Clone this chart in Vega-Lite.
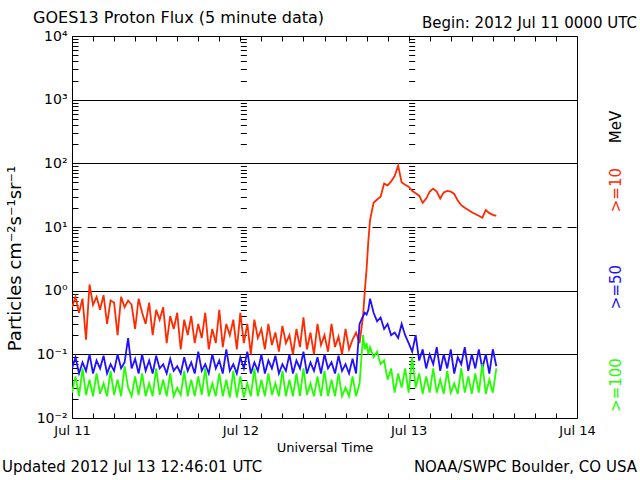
{
  "$schema": "https://vega.github.io/schema/vega-lite/v6.json",
  "width": 505,
  "height": 382,
  "autosize": "none",
  "padding": {"left": 72, "top": 36, "right": 63, "bottom": 62},
  "background": "white",
  "config": {
    "view": {"stroke": "black", "strokeWidth": 1},
    "font": "DejaVu Sans",
    "axis": {"domainColor": "black", "tickColor": "black", "labelColor": "black", "titleColor": "black", "titleFontWeight": "normal", "labelFont": "DejaVu Sans", "titleFont": "DejaVu Sans"}
  },
  "layer": [
    {
      "data": {"values": [
        {"t":"2012-07-11T00:00:00Z","r":0.55,"b":0.06,"g":0.025},
        {"t":"2012-07-11T00:30:00Z","r":0.8,"b":0.09,"g":0.045},
        {"t":"2012-07-11T01:00:00Z","r":0.45,"b":0.05,"g":0.022},
        {"t":"2012-07-11T01:30:00Z","r":0.75,"b":0.075,"g":0.06},
        {"t":"2012-07-11T02:00:00Z","r":0.17,"b":0.055,"g":0.023},
        {"t":"2012-07-11T02:30:00Z","r":1.25,"b":0.1,"g":0.04},
        {"t":"2012-07-11T03:00:00Z","r":0.6,"b":0.05,"g":0.022},
        {"t":"2012-07-11T03:30:00Z","r":0.8,"b":0.08,"g":0.05},
        {"t":"2012-07-11T04:00:00Z","r":0.5,"b":0.06,"g":0.024},
        {"t":"2012-07-11T04:30:00Z","r":0.85,"b":0.095,"g":0.035},
        {"t":"2012-07-11T05:00:00Z","r":0.3,"b":0.05,"g":0.022},
        {"t":"2012-07-11T05:30:00Z","r":0.7,"b":0.07,"g":0.055},
        {"t":"2012-07-11T06:00:00Z","r":0.65,"b":0.055,"g":0.023},
        {"t":"2012-07-11T06:30:00Z","r":0.2,"b":0.1,"g":0.04},
        {"t":"2012-07-11T07:00:00Z","r":0.8,"b":0.06,"g":0.022},
        {"t":"2012-07-11T07:30:00Z","r":0.55,"b":0.075,"g":0.065},
        {"t":"2012-07-11T08:00:00Z","r":0.7,"b":0.18,"g":0.03},
        {"t":"2012-07-11T08:30:00Z","r":0.6,"b":0.06,"g":0.022},
        {"t":"2012-07-11T09:00:00Z","r":0.25,"b":0.085,"g":0.045},
        {"t":"2012-07-11T09:30:00Z","r":0.75,"b":0.05,"g":0.023},
        {"t":"2012-07-11T10:00:00Z","r":0.45,"b":0.1,"g":0.05},
        {"t":"2012-07-11T10:30:00Z","r":0.3,"b":0.055,"g":0.022},
        {"t":"2012-07-11T11:00:00Z","r":0.65,"b":0.08,"g":0.035},
        {"t":"2012-07-11T11:30:00Z","r":0.2,"b":0.05,"g":0.022},
        {"t":"2012-07-11T12:00:00Z","r":0.5,"b":0.095,"g":0.06},
        {"t":"2012-07-11T12:30:00Z","r":0.35,"b":0.06,"g":0.023},
        {"t":"2012-07-11T13:00:00Z","r":0.55,"b":0.07,"g":0.04},
        {"t":"2012-07-11T13:30:00Z","r":0.15,"b":0.05,"g":0.022},
        {"t":"2012-07-11T14:00:00Z","r":0.4,"b":0.085,"g":0.05},
        {"t":"2012-07-11T14:30:00Z","r":0.25,"b":0.055,"g":0.022},
        {"t":"2012-07-11T15:00:00Z","r":0.45,"b":0.065,"g":0.03},
        {"t":"2012-07-11T15:30:00Z","r":0.12,"b":0.05,"g":0.023},
        {"t":"2012-07-11T16:00:00Z","r":0.35,"b":0.09,"g":0.055},
        {"t":"2012-07-11T16:30:00Z","r":0.2,"b":0.055,"g":0.022},
        {"t":"2012-07-11T17:00:00Z","r":0.4,"b":0.075,"g":0.04},
        {"t":"2012-07-11T17:30:00Z","r":0.15,"b":0.05,"g":0.022},
        {"t":"2012-07-11T18:00:00Z","r":0.3,"b":0.11,"g":0.045},
        {"t":"2012-07-11T18:30:00Z","r":0.18,"b":0.055,"g":0.023},
        {"t":"2012-07-11T19:00:00Z","r":0.45,"b":0.07,"g":0.06},
        {"t":"2012-07-11T19:30:00Z","r":0.12,"b":0.05,"g":0.022},
        {"t":"2012-07-11T20:00:00Z","r":0.25,"b":0.1,"g":0.035},
        {"t":"2012-07-11T20:30:00Z","r":0.15,"b":0.06,"g":0.022},
        {"t":"2012-07-11T21:00:00Z","r":0.5,"b":0.08,"g":0.05},
        {"t":"2012-07-11T21:30:00Z","r":0.13,"b":0.05,"g":0.022},
        {"t":"2012-07-11T22:00:00Z","r":0.3,"b":0.12,"g":0.04},
        {"t":"2012-07-11T22:30:00Z","r":0.2,"b":0.055,"g":0.021},
        {"t":"2012-07-11T23:00:00Z","r":0.35,"b":0.07,"g":0.055},
        {"t":"2012-07-11T23:30:00Z","r":0.12,"b":0.05,"g":0.021},
        {"t":"2012-07-12T00:00:00Z","r":0.45,"b":0.09,"g":0.045},
        {"t":"2012-07-12T00:30:00Z","r":0.15,"b":0.06,"g":0.021},
        {"t":"2012-07-12T01:00:00Z","r":0.3,"b":0.11,"g":0.035},
        {"t":"2012-07-12T01:30:00Z","r":0.1,"b":0.05,"g":0.022},
        {"t":"2012-07-12T02:00:00Z","r":0.35,"b":0.075,"g":0.06},
        {"t":"2012-07-12T02:30:00Z","r":0.18,"b":0.055,"g":0.022},
        {"t":"2012-07-12T03:00:00Z","r":0.25,"b":0.1,"g":0.04},
        {"t":"2012-07-12T03:30:00Z","r":0.12,"b":0.05,"g":0.022},
        {"t":"2012-07-12T04:00:00Z","r":0.3,"b":0.08,"g":0.05},
        {"t":"2012-07-12T04:30:00Z","r":0.14,"b":0.06,"g":0.023},
        {"t":"2012-07-12T05:00:00Z","r":0.22,"b":0.095,"g":0.035},
        {"t":"2012-07-12T05:30:00Z","r":0.11,"b":0.05,"g":0.022},
        {"t":"2012-07-12T06:00:00Z","r":0.28,"b":0.07,"g":0.055},
        {"t":"2012-07-12T06:30:00Z","r":0.15,"b":0.055,"g":0.022},
        {"t":"2012-07-12T07:00:00Z","r":0.2,"b":0.1,"g":0.04},
        {"t":"2012-07-12T07:30:00Z","r":0.1,"b":0.05,"g":0.022},
        {"t":"2012-07-12T08:00:00Z","r":0.25,"b":0.08,"g":0.05},
        {"t":"2012-07-12T08:30:00Z","r":0.13,"b":0.06,"g":0.022},
        {"t":"2012-07-12T09:00:00Z","r":0.38,"b":0.11,"g":0.06},
        {"t":"2012-07-12T09:30:00Z","r":0.12,"b":0.05,"g":0.023},
        {"t":"2012-07-12T10:00:00Z","r":0.22,"b":0.075,"g":0.035},
        {"t":"2012-07-12T10:30:00Z","r":0.1,"b":0.055,"g":0.022},
        {"t":"2012-07-12T11:00:00Z","r":0.3,"b":0.09,"g":0.045},
        {"t":"2012-07-12T11:30:00Z","r":0.14,"b":0.05,"g":0.022},
        {"t":"2012-07-12T12:00:00Z","r":0.2,"b":0.1,"g":0.055},
        {"t":"2012-07-12T12:30:00Z","r":0.11,"b":0.06,"g":0.022},
        {"t":"2012-07-12T13:00:00Z","r":0.3,"b":0.075,"g":0.04},
        {"t":"2012-07-12T13:30:00Z","r":0.13,"b":0.05,"g":0.022},
        {"t":"2012-07-12T14:00:00Z","r":0.19,"b":0.095,"g":0.05},
        {"t":"2012-07-12T14:30:00Z","r":0.1,"b":0.055,"g":0.022},
        {"t":"2012-07-12T15:00:00Z","r":0.25,"b":0.07,"g":0.03},
        {"t":"2012-07-12T15:30:00Z","r":0.12,"b":0.05,"g":0.022},
        {"t":"2012-07-12T16:00:00Z","r":0.17,"b":0.085,"g":0.045},
        {"t":"2012-07-12T16:30:00Z","r":0.22,"b":0.05,"g":0.022},
        {"t":"2012-07-12T17:00:00Z","r":0.15,"b":0.3,"g":0.035},
        {"t":"2012-07-12T17:30:00Z","r":0.4,"b":0.4,"g":0.2},
        {"t":"2012-07-12T17:45:00Z","r":1.0,"b":0.45,"g":0.12},
        {"t":"2012-07-12T18:00:00Z","r":2.2,"b":0.42,"g":0.15},
        {"t":"2012-07-12T18:15:00Z","r":6,"b":0.5,"g":0.1},
        {"t":"2012-07-12T18:30:00Z","r":13,"b":0.75,"g":0.13},
        {"t":"2012-07-12T19:00:00Z","r":24,"b":0.45,"g":0.09},
        {"t":"2012-07-12T19:30:00Z","r":27,"b":0.33,"g":0.11},
        {"t":"2012-07-12T20:00:00Z","r":30,"b":0.38,"g":0.07},
        {"t":"2012-07-12T20:30:00Z","r":48,"b":0.25,"g":0.08},
        {"t":"2012-07-12T21:00:00Z","r":45,"b":0.3,"g":0.04},
        {"t":"2012-07-12T21:30:00Z","r":52,"b":0.2,"g":0.06},
        {"t":"2012-07-12T22:00:00Z","r":63,"b":0.22,"g":0.025},
        {"t":"2012-07-12T22:30:00Z","r":92,"b":0.18,"g":0.05},
        {"t":"2012-07-12T23:00:00Z","r":50,"b":0.3,"g":0.03},
        {"t":"2012-07-12T23:30:00Z","r":46,"b":0.2,"g":0.06},
        {"t":"2012-07-13T00:00:00Z","r":43,"b":0.15,"g":0.025},
        {"t":"2012-07-13T00:30:00Z","r":37,"b":0.11,"g":0.09},
        {"t":"2012-07-13T01:00:00Z","r":34,"b":0.2,"g":0.03},
        {"t":"2012-07-13T01:30:00Z","r":31,"b":0.08,"g":0.05},
        {"t":"2012-07-13T02:00:00Z","r":24,"b":0.12,"g":0.024},
        {"t":"2012-07-13T02:30:00Z","r":28,"b":0.06,"g":0.045},
        {"t":"2012-07-13T03:00:00Z","r":36,"b":0.1,"g":0.025},
        {"t":"2012-07-13T03:30:00Z","r":40,"b":0.07,"g":0.06},
        {"t":"2012-07-13T04:00:00Z","r":36,"b":0.13,"g":0.025},
        {"t":"2012-07-13T04:30:00Z","r":28,"b":0.055,"g":0.04},
        {"t":"2012-07-13T05:00:00Z","r":35,"b":0.1,"g":0.024},
        {"t":"2012-07-13T05:30:00Z","r":37,"b":0.06,"g":0.055},
        {"t":"2012-07-13T06:00:00Z","r":36,"b":0.12,"g":0.025},
        {"t":"2012-07-13T06:30:00Z","r":33,"b":0.05,"g":0.035},
        {"t":"2012-07-13T07:00:00Z","r":26,"b":0.09,"g":0.024},
        {"t":"2012-07-13T07:30:00Z","r":22,"b":0.07,"g":0.06},
        {"t":"2012-07-13T08:00:00Z","r":20,"b":0.13,"g":0.025},
        {"t":"2012-07-13T08:30:00Z","r":18.5,"b":0.055,"g":0.045},
        {"t":"2012-07-13T09:00:00Z","r":17,"b":0.1,"g":0.024},
        {"t":"2012-07-13T09:30:00Z","r":16,"b":0.06,"g":0.05},
        {"t":"2012-07-13T10:00:00Z","r":15,"b":0.12,"g":0.025},
        {"t":"2012-07-13T10:30:00Z","r":14,"b":0.06,"g":0.07},
        {"t":"2012-07-13T11:00:00Z","r":18.5,"b":0.1,"g":0.024},
        {"t":"2012-07-13T11:30:00Z","r":16.5,"b":0.05,"g":0.04},
        {"t":"2012-07-13T12:00:00Z","r":15.5,"b":0.12,"g":0.025},
        {"t":"2012-07-13T12:30:00Z","r":15,"b":0.065,"g":0.06}
      ]},
      "transform": [{"fold": ["r", "b", "g"], "as": ["s", "v"]}],
      "mark": {"type": "line", "strokeWidth": 1.8, "clip": true},
      "encoding": {
        "x": {
          "field": "t", "type": "temporal",
          "scale": {"type": "utc", "nice": false, "domain": [1341964800000, 1342224000000]},
          "axis": {"orient": "bottom", "values": [1341964800000,1341975600000,1341986400000,1341997200000,1342008000000,1342018800000,1342029600000,1342040400000,1342051200000,1342062000000,1342072800000,1342083600000,1342094400000,1342105200000,1342116000000,1342126800000,1342137600000,1342148400000,1342159200000,1342170000000,1342180800000,1342191600000,1342202400000,1342213200000,1342224000000], "labelExpr": "utcFormat(datum.value, '%H') == '00' ? utcFormat(datum.value, '%b %d') : ''", "tickSize": -5, "labelPadding": 11, "labelFontSize": 13, "labelFlush": false, "labelOverlap": false, "domain": false, "grid": false, "title": "Universal Time", "titleFontSize": 13, "titlePadding": 4}
        },
        "y": {
          "field": "v", "type": "quantitative",
          "scale": {"type": "log", "domain": [0.01, 10000], "nice": false},
          "axis": {
            "orient": "left",
            "values": [0.01,0.02,0.03,0.04,0.05,0.06,0.07,0.08,0.09,0.1,0.2,0.3,0.4,0.5,0.6,0.7,0.8,0.9,1,2,3,4,5,6,7,8,9,10,20,30,40,50,60,70,80,90,100,200,300,400,500,600,700,800,900,1000,2000,3000,4000,5000,6000,7000,8000,9000,10000],
            "labelExpr": "datum.value == 0.01 ? '10⁻²' : datum.value == 0.1 ? '10⁻¹' : datum.value == 1 ? '10⁰' : datum.value == 10 ? '10¹' : datum.value == 100 ? '10²' : datum.value == 1000 ? '10³' : datum.value == 10000 ? '10⁴' : ''",
            "tickSize": -6, "labelPadding": 11, "labelFontSize": 14, "labelFlush": false, "labelOverlap": false, "domain": false,
            "grid": true, "gridColor": "black", "gridWidth": 1,
            "gridOpacity": {"condition": {"test": "indexof([0.1, 1, 10, 100, 1000], datum.value) >= 0", "value": 1}, "value": 0},
            "gridDash": {"condition": {"test": "datum.value == 10", "value": [9, 6]}, "value": []},
            "title": "Particles cm⁻²s⁻¹sr⁻¹", "titleFontSize": 18, "titleX": -48, "titleY": 222
          }
        },
        "color": {"field": "s", "type": "nominal", "legend": null, "scale": {"domain": ["r", "b", "g"], "range": ["#ff2a00", "#2010ff", "#22ff00"]}}
      }
    },
    {
      "data": {"values": []},
      "mark": "point",
      "encoding": {
        "x": {"field": "t", "type": "temporal", "axis": {"orient": "top", "values": [1341964800000,1341975600000,1341986400000,1341997200000,1342008000000,1342018800000,1342029600000,1342040400000,1342051200000,1342062000000,1342072800000,1342083600000,1342094400000,1342105200000,1342116000000,1342126800000,1342137600000,1342148400000,1342159200000,1342170000000,1342180800000,1342191600000,1342202400000,1342213200000,1342224000000], "tickSize": -5, "labels": false, "domain": false, "grid": false, "title": null}},
        "y": {"field": "v", "type": "quantitative", "axis": {"orient": "left", "offset": -168.33, "values": [0.01,0.02,0.03,0.04,0.05,0.06,0.07,0.08,0.09,0.1,0.2,0.3,0.4,0.5,0.6,0.7,0.8,0.9,1,2,3,4,5,6,7,8,9,10,20,30,40,50,60,70,80,90,100,200,300,400,500,600,700,800,900,1000,2000,3000,4000,5000,6000,7000,8000,9000,10000], "tickSize": -6, "labels": false, "domain": false, "grid": false, "title": null}}
      }
    },
    {
      "data": {"values": []},
      "mark": "point",
      "encoding": {
        "x": {"field": "t", "type": "temporal", "axis": null},
        "y": {"field": "v", "type": "quantitative", "axis": {"orient": "left", "offset": -336.67, "values": [0.01,0.02,0.03,0.04,0.05,0.06,0.07,0.08,0.09,0.1,0.2,0.3,0.4,0.5,0.6,0.7,0.8,0.9,1,2,3,4,5,6,7,8,9,10,20,30,40,50,60,70,80,90,100,200,300,400,500,600,700,800,900,1000,2000,3000,4000,5000,6000,7000,8000,9000,10000], "tickSize": -6, "labels": false, "domain": false, "grid": false, "title": null}}
      }
    },
    {
      "data": {"values": [{}]},
      "mark": {"type": "text", "align": "left", "baseline": "alphabetic", "fontSize": 16},
      "encoding": {
        "x": {"datum": 1341944820000, "type": "temporal", "axis": null},
        "y": {"datum": 16000, "type": "quantitative", "axis": null},
        "text": {"value": "GOES13 Proton Flux (5 minute data)"}
      }
    },
    {
      "data": {"values": [{}]},
      "mark": {"type": "text", "align": "right", "baseline": "alphabetic", "fontSize": 15},
      "encoding": {
        "x": {"datum": 1342254780000, "type": "temporal", "axis": null},
        "y": {"datum": 13357, "type": "quantitative", "axis": null},
        "text": {"value": "Begin: 2012 Jul 11 0000 UTC"}
      }
    },
    {
      "data": {"values": [{}]},
      "mark": {"type": "text", "align": "left", "baseline": "alphabetic", "fontSize": 15},
      "encoding": {
        "x": {"datum": 1341928860000, "type": "temporal", "axis": null},
        "y": {"datum": 0.00142, "type": "quantitative", "axis": null},
        "text": {"value": "Updated 2012 Jul 13 12:46:01 UTC"}
      }
    },
    {
      "data": {"values": [{}]},
      "mark": {"type": "text", "align": "right", "baseline": "alphabetic", "fontSize": 15},
      "encoding": {
        "x": {"datum": 1342254780000, "type": "temporal", "axis": null},
        "y": {"datum": 0.00142, "type": "quantitative", "axis": null},
        "text": {"value": "NOAA/SWPC Boulder, CO USA"}
      }
    },
    {
      "data": {"values": [{}]},
      "mark": {"type": "text", "align": "center", "baseline": "middle", "fontSize": 15, "angle": 270},
      "encoding": {
        "x": {"datum": 1342244040000, "type": "temporal", "axis": null},
        "y": {"datum": 372, "type": "quantitative", "axis": null},
        "text": {"value": "MeV"}
      }
    },
    {
      "data": {"values": [{}]},
      "mark": {"type": "text", "align": "center", "baseline": "middle", "fontSize": 15, "angle": 270, "color": "#ff2a00"},
      "encoding": {
        "x": {"datum": 1342244040000, "type": "temporal", "axis": null},
        "y": {"datum": 38, "type": "quantitative", "axis": null},
        "text": {"value": ">=10"}
      }
    },
    {
      "data": {"values": [{}]},
      "mark": {"type": "text", "align": "center", "baseline": "middle", "fontSize": 15, "angle": 270, "color": "#2010ff"},
      "encoding": {
        "x": {"datum": 1342244040000, "type": "temporal", "axis": null},
        "y": {"datum": 1.14, "type": "quantitative", "axis": null},
        "text": {"value": ">=50"}
      }
    },
    {
      "data": {"values": [{}]},
      "mark": {"type": "text", "align": "center", "baseline": "middle", "fontSize": 15, "angle": 270, "color": "#22ff00"},
      "encoding": {
        "x": {"datum": 1342244040000, "type": "temporal", "axis": null},
        "y": {"datum": 0.033, "type": "quantitative", "axis": null},
        "text": {"value": ">=100"}
      }
    }
  ],
  "resolve": {"axis": {"x": "independent", "y": "independent"}}
}
